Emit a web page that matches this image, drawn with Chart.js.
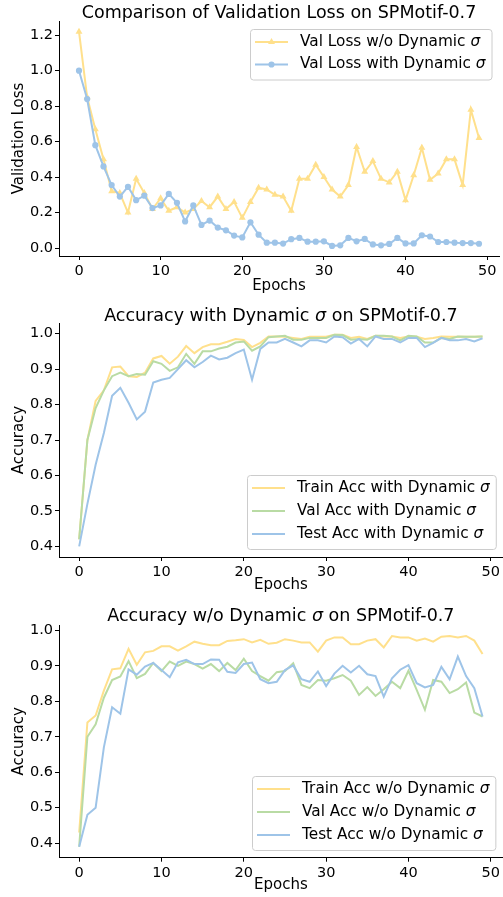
<!DOCTYPE html>
<html>
<head>
<meta charset="utf-8">
<script src="https://cdn.jsdelivr.net/npm/chart.js@4.4.1/dist/chart.umd.min.js"></script>
<style>
  html, body { margin: 0; padding: 0; background: #fff; }
  body { width: 503px; height: 897px; position: relative; overflow: hidden; }
  .panel { position: absolute; left: 0; width: 503px; }
</style>
</head>
<body>
<div class="panel" style="top:0;height:300px"><canvas id="lossChart"></canvas></div>
<div class="panel" style="top:300px;height:300px"><canvas id="accWithChart"></canvas></div>
<div class="panel" style="top:600px;height:297px"><canvas id="accWoChart"></canvas></div>
<script>
"use strict";

// ---- data (epoch = array index) ----
const LOSS_WO   = [1.22, 0.85, 0.67, 0.50, 0.32, 0.31, 0.20, 0.39, 0.31, 0.22,
                   0.28, 0.21, 0.23, 0.20, 0.22, 0.265, 0.23, 0.29, 0.22, 0.26,
                   0.17, 0.26, 0.34, 0.33, 0.30, 0.29, 0.21, 0.39, 0.39, 0.47,
                   0.40, 0.33, 0.29, 0.355, 0.57, 0.43, 0.49, 0.39, 0.37, 0.43,
                   0.27, 0.41, 0.565, 0.385, 0.42, 0.50, 0.50, 0.355, 0.78, 0.62];
const LOSS_WITH = [1.00, 0.84, 0.58, 0.46, 0.355, 0.29, 0.345, 0.27, 0.295, 0.225,
                   0.24, 0.305, 0.255, 0.15, 0.24, 0.13, 0.155, 0.115, 0.10, 0.07,
                   0.06, 0.145, 0.075, 0.03, 0.03, 0.025, 0.05, 0.057, 0.036, 0.036,
                   0.038, 0.012, 0.015, 0.057, 0.038, 0.051, 0.02, 0.015, 0.023, 0.057,
                   0.026, 0.026, 0.072, 0.065, 0.034, 0.034, 0.03, 0.028, 0.028, 0.024];

const ACC_WITH_TRAIN = [0.42, 0.70, 0.81, 0.84, 0.905, 0.907, 0.88, 0.878, 0.89, 0.93,
                        0.937, 0.915, 0.935, 0.965, 0.945, 0.962, 0.97, 0.97, 0.977, 0.985,
                        0.982, 0.962, 0.974, 0.992, 0.992, 0.991, 0.988, 0.985, 0.991, 0.991,
                        0.991, 0.997, 0.997, 0.988, 0.991, 0.985, 0.994, 0.992, 0.992, 0.988,
                        0.992, 0.991, 0.985, 0.988, 0.992, 0.991, 0.991, 0.991, 0.991, 0.992];
const ACC_WITH_VAL   = [0.42, 0.70, 0.79, 0.84, 0.88, 0.89, 0.88, 0.886, 0.884, 0.922,
                        0.915, 0.895, 0.905, 0.943, 0.915, 0.95, 0.95, 0.958, 0.963, 0.975,
                        0.978, 0.952, 0.964, 0.99, 0.992, 0.994, 0.983, 0.983, 0.988, 0.988,
                        0.988, 0.997, 0.996, 0.983, 0.985, 0.983, 0.994, 0.994, 0.992, 0.981,
                        0.994, 0.992, 0.975, 0.975, 0.988, 0.985, 0.992, 0.991, 0.991, 0.992];
const ACC_WITH_TEST  = [0.40, 0.52, 0.63, 0.72, 0.825, 0.847, 0.805, 0.758, 0.78, 0.862,
                        0.87, 0.875, 0.90, 0.925, 0.905, 0.92, 0.938, 0.927, 0.932, 0.945,
                        0.955, 0.87, 0.957, 0.975, 0.975, 0.985, 0.975, 0.964, 0.981, 0.981,
                        0.975, 0.992, 0.99, 0.972, 0.985, 0.964, 0.992, 0.985, 0.985, 0.975,
                        0.988, 0.988, 0.962, 0.974, 0.988, 0.981, 0.981, 0.985, 0.978, 0.987];

const ACC_WO_TRAIN = [0.43, 0.74, 0.76, 0.83, 0.89, 0.893, 0.948, 0.903, 0.938, 0.942,
                      0.955, 0.955, 0.943, 0.955, 0.968, 0.962, 0.958, 0.958, 0.97, 0.972,
                      0.975, 0.966, 0.973, 0.962, 0.965, 0.975, 0.971, 0.966, 0.966, 0.94,
                      0.971, 0.98, 0.98, 0.961, 0.961, 0.971, 0.975, 0.952, 0.984, 0.98,
                      0.98, 0.971, 0.977, 0.968, 0.982, 0.984, 0.98, 0.984, 0.971, 0.933];
const ACC_WO_VAL   = [0.39, 0.70, 0.735, 0.81, 0.86, 0.87, 0.913, 0.865, 0.877, 0.908,
                      0.885, 0.912, 0.90, 0.912, 0.905, 0.892, 0.905, 0.885, 0.908, 0.888,
                      0.92, 0.885, 0.871, 0.858, 0.882, 0.885, 0.907, 0.846, 0.837, 0.86,
                      0.858, 0.865, 0.874, 0.858, 0.818, 0.84, 0.815, 0.834, 0.855, 0.837,
                      0.886, 0.832, 0.776, 0.86, 0.855, 0.823, 0.834, 0.853, 0.768, 0.757];
const ACC_WO_TEST  = [0.39, 0.48, 0.50, 0.67, 0.783, 0.765, 0.89, 0.875, 0.898, 0.908,
                      0.888, 0.868, 0.91, 0.917, 0.905, 0.905, 0.918, 0.917, 0.883, 0.88,
                      0.905, 0.909, 0.862, 0.851, 0.855, 0.888, 0.901, 0.862, 0.855, 0.884,
                      0.843, 0.878, 0.90, 0.881, 0.90, 0.876, 0.871, 0.813, 0.865, 0.889,
                      0.902, 0.851, 0.839, 0.846, 0.897, 0.862, 0.926, 0.871, 0.837, 0.757];

const EPOCH_TICKS = [0, 10, 20, 30, 40, 50];
const LOSS_TICKS  = [0.0, 0.2, 0.4, 0.6, 0.8, 1.0, 1.2];
const ACC_TICKS   = [0.4, 0.5, 0.6, 0.7, 0.8, 0.9, 1.0];

const FONT   = "'DejaVu Sans', 'Liberation Sans', sans-serif";
const INK    = "#000000";
const YELLOW = "#ffe08c";
const GREEN  = "#b9dba4";
const BLUE   = "#9ec4e8";
const TICK_SIZE   = 14.5;
const LABEL_SIZE  = 15;
const LEGEND_SIZE = 15.3;
const TITLE_SIZE  = 17.5;

Chart.defaults.font.family = FONT;
Chart.defaults.color = INK;

function toPoints(values) {
  return values.map((v, i) => ({ x: i, y: v }));
}

function lineDataset(label, values, color, order, pointStyle) {
  return {
    label,
    data: toPoints(values),
    borderColor: color,
    backgroundColor: color,
    borderWidth: 2,
    pointStyle: pointStyle || false,
    pointRadius: pointStyle === "triangle" ? 4 : (pointStyle ? 3.1 : 0),
    pointBorderWidth: 0,
    pointBackgroundColor: color,
    tension: 0,
    order,
  };
}

// draws "text σ rest" with the sigma in italic, starting at x; returns the width
function mixedText(ctx, text, x, y, size, measureOnly) {
  const parts = text.split("σ");
  let cx = x;
  parts.forEach((part, i) => {
    ctx.font = size + "px " + FONT;
    if (!measureOnly) ctx.fillText(part, cx, y);
    cx += ctx.measureText(part).width;
    if (i < parts.length - 1) {
      ctx.font = "italic " + size + "px " + FONT;
      if (!measureOnly) ctx.fillText("σ", cx, y);
      cx += ctx.measureText("σ").width;
    }
  });
  return cx - x;
}

// title centred over the axes area, as matplotlib does
const axesTitle = {
  id: "axesTitle",
  afterDraw(chart, args, opts) {
    const { ctx, chartArea } = chart;
    ctx.save();
    ctx.fillStyle = INK;
    ctx.textBaseline = "alphabetic";
    ctx.textAlign = "left";
    const w = mixedText(ctx, opts.text, 0, 0, TITLE_SIZE, true);
    const x = (chartArea.left + chartArea.right) / 2 - w / 2;
    mixedText(ctx, opts.text, x, opts.baseline, TITLE_SIZE, false);
    ctx.restore();
  },
};

// matplotlib-like legend drawn inside the axes, with a rounded light frame
const boxLegend = {
  id: "boxLegend",
  afterDraw(chart, args, opts) {
    const { ctx, chartArea } = chart;
    const items = chart.data.datasets;
    ctx.save();
    ctx.textBaseline = "middle";
    ctx.textAlign = "left";
    const widths = items.map((d) => mixedText(ctx, d.label, 0, 0, LEGEND_SIZE, true));
    const rowGap = opts.rowGap;
    const boxW = 50 + Math.max(...widths) + 6;
    const boxH = 13 + rowGap * (items.length - 1) + 15;
    const left = Math.round(chartArea.right - 7 - boxW);
    const top = Math.round(opts.anchor === "top" ? chartArea.top + 8 : chartArea.bottom - 8 - boxH);

    ctx.beginPath();
    ctx.roundRect(left + 0.5, top + 0.5, boxW, boxH, 3);
    ctx.fillStyle = "rgba(255,255,255,0.8)";
    ctx.fill();
    ctx.strokeStyle = "#cccccc";
    ctx.lineWidth = 1;
    ctx.stroke();

    items.forEach((d, i) => {
      const y = top + 13 + i * rowGap;
      ctx.beginPath();
      ctx.moveTo(left + 5, y);
      ctx.lineTo(left + 38, y);
      ctx.strokeStyle = d.borderColor;
      ctx.lineWidth = 2;
      ctx.stroke();
      const mx = left + 21.5;
      ctx.fillStyle = d.borderColor;
      if (d.pointStyle === "circle") {
        ctx.beginPath();
        ctx.arc(mx, y, d.pointRadius, 0, Math.PI * 2);
        ctx.fill();
      } else if (d.pointStyle === "triangle") {
        const r = d.pointRadius;
        ctx.beginPath();
        ctx.moveTo(mx, y - r);
        ctx.lineTo(mx + r * Math.sin(2 * Math.PI / 3), y + r / 2);
        ctx.lineTo(mx - r * Math.sin(2 * Math.PI / 3), y + r / 2);
        ctx.closePath();
        ctx.fill();
      }
      ctx.fillStyle = INK;
      mixedText(ctx, d.label, left + 50, y, LEGEND_SIZE, false);
    });
    ctx.restore();
  },
};

function buildOptions({ title, titleBaseline, areaTop, yTitle, yMin, yMax, yTicks, xHeight, xTitlePad, legendAnchor, rowGap }) {
  return {
    responsive: true,
    maintainAspectRatio: false,
    animation: false,
    layout: { padding: { top: areaTop, left: 0, right: 0, bottom: 0 } },
    plugins: {
      legend: { display: false },
      title: { display: false },
      tooltip: { enabled: false },
      axesTitle: { text: title, baseline: titleBaseline },
      boxLegend: { anchor: legendAnchor, rowGap },
    },
    scales: {
      x: {
        type: "linear",
        min: -2.45,
        max: 51.45,
        afterBuildTicks: (scale) => { scale.ticks = EPOCH_TICKS.map((v) => ({ value: v })); },
        afterFit: (scale) => { scale.height = xHeight; },
        grid: { display: true, drawOnChartArea: false, drawTicks: true, tickLength: 4, color: INK, tickWidth: 1 },
        border: { display: true, color: INK, width: 1 },
        ticks: { color: INK, padding: 3, maxRotation: 0, font: { family: FONT, size: TICK_SIZE },
                 callback: (v) => String(v) },
        title: { display: true, text: "Epochs", color: INK, font: { family: FONT, size: LABEL_SIZE },
                 padding: { top: 0, bottom: xTitlePad } },
      },
      y: {
        type: "linear",
        min: yMin,
        max: yMax,
        afterBuildTicks: (scale) => { scale.ticks = yTicks.map((v) => ({ value: v })); },
        afterFit: (scale) => { scale.width = 59; },
        grid: { display: true, drawOnChartArea: false, drawTicks: true, tickLength: 4, color: INK, tickWidth: 1 },
        border: { display: true, color: INK, width: 1 },
        ticks: { color: INK, padding: 2, font: { family: FONT, size: TICK_SIZE },
                 callback: (v) => Number(v).toFixed(1) },
        title: { display: true, text: yTitle, color: INK, font: { family: FONT, size: LABEL_SIZE },
                 padding: { top: 10, bottom: 0 } },
      },
    },
  };
}

new Chart(document.getElementById("lossChart"), {
  type: "line",
  data: {
    datasets: [
      lineDataset("Val Loss w/o Dynamic σ", LOSS_WO, YELLOW, 2, "triangle"),
      lineDataset("Val Loss with Dynamic σ", LOSS_WITH, BLUE, 1, "circle"),
    ],
  },
  options: buildOptions({
    title: "Comparison of Validation Loss on SPMotif-0.7",
    titleBaseline: 17.5, areaTop: 21, yTitle: "Validation Loss",
    yMin: -0.045, yMax: 1.28, yTicks: LOSS_TICKS,
    xHeight: 44, xTitlePad: 5, legendAnchor: "top", rowGap: 22.5,
  }),
  plugins: [axesTitle, boxLegend],
});

new Chart(document.getElementById("accWithChart"), {
  type: "line",
  data: {
    datasets: [
      lineDataset("Train Acc with Dynamic σ", ACC_WITH_TRAIN, YELLOW, 3),
      lineDataset("Val Acc with Dynamic σ", ACC_WITH_VAL, GREEN, 2),
      lineDataset("Test Acc with Dynamic σ", ACC_WITH_TEST, BLUE, 1),
    ],
  },
  options: buildOptions({
    title: "Accuracy with Dynamic σ on SPMotif-0.7",
    titleBaseline: 21, areaTop: 23, yTitle: "Accuracy",
    yMin: 0.37, yMax: 1.03, yTicks: ACC_TICKS,
    xHeight: 43, xTitlePad: 6, legendAnchor: "bottom", rowGap: 23,
  }),
  plugins: [axesTitle, boxLegend],
});

new Chart(document.getElementById("accWoChart"), {
  type: "line",
  data: {
    datasets: [
      lineDataset("Train Acc w/o Dynamic σ", ACC_WO_TRAIN, YELLOW, 3),
      lineDataset("Val Acc w/o Dynamic σ", ACC_WO_VAL, GREEN, 2),
      lineDataset("Test Acc w/o Dynamic σ", ACC_WO_TEST, BLUE, 1),
    ],
  },
  options: buildOptions({
    title: "Accuracy w/o Dynamic σ on SPMotif-0.7",
    titleBaseline: 21.4, areaTop: 25, yTitle: "Accuracy",
    yMin: 0.359, yMax: 1.015, yTicks: ACC_TICKS,
    xHeight: 39.3, xTitlePad: 3, legendAnchor: "bottom", rowGap: 23,
  }),
  plugins: [axesTitle, boxLegend],
});
</script>
</body>
</html>
